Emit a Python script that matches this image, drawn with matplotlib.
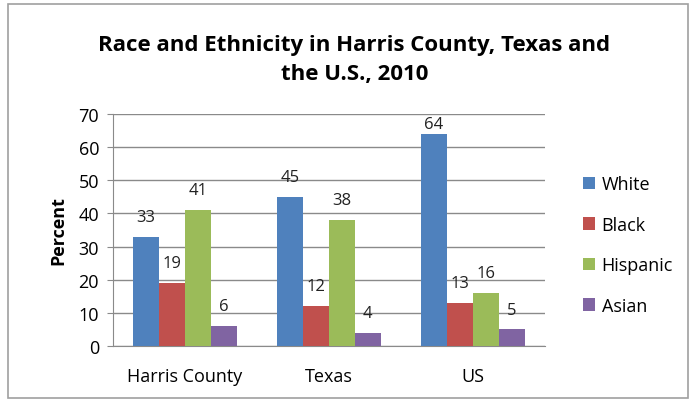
import numpy as np
import matplotlib
matplotlib.use("Agg")
import matplotlib.pyplot as plt
from matplotlib.patches import Rectangle

plt.rcParams['font.family'] = ['Open Sans', 'DejaVu Sans']

# Data
places = ["Harris County", "Texas", "US"]
groups = ["White", "Black", "Hispanic", "Asian"]
white = [33, 45, 64]
black = [19, 12, 13]
hispanic = [41, 38, 16]
asian = [6, 4, 5]
yticks = [0, 10, 20, 30, 40, 50, 60, 70]

colors = ["#4F81BD", "#C0504D", "#9BBB59", "#8064A2"]
series = [white, black, hispanic, asian]

fig = plt.figure(figsize=(6.91, 4.02), dpi=100)
fig.patch.set_facecolor("white")

# outer frame of the chart
fig.add_artist(Rectangle((8 / 691, 3 / 402), 680 / 691, 394 / 402,
                         transform=fig.transFigure, fill=False,
                         edgecolor="#a0a0a0", linewidth=1.2))

ax = fig.add_axes([0.1635, 0.1368, 0.625, 0.577])

x = np.arange(len(places))
w = 0.18
for i, (vals, name) in enumerate(zip(series, groups)):
    pos = x + (i - 1.5) * w
    ax.bar(pos, vals, width=w, color=colors[i], label=name, zorder=3)
    for p, v in zip(pos, vals):
        ax.text(p, min(v + 6, 67), str(v), ha='center', va='center',
                fontsize=12, color="#222222", zorder=4)

ax.set_ylim(0, 70)
ax.set_xlim(-0.5, 2.5)
ax.set_yticks(yticks)
ax.set_xticks(x)
ax.set_xticklabels(places, fontsize=13)
ax.tick_params(axis='y', labelsize=13, length=4, color="#8a8a8a", pad=6)
ax.tick_params(axis='x', length=0, pad=15)
ax.yaxis.grid(True, color="#8a8a8a", linewidth=1, zorder=0)
ax.set_axisbelow(True)
for s in ["top", "right"]:
    ax.spines[s].set_visible(False)
ax.spines["left"].set_color("#8a8a8a")
ax.spines["bottom"].set_color("#8a8a8a")

ax.set_ylabel("Percent", fontsize=13, fontweight='bold', labelpad=8)

fig.text(0.513, 0.851, "Race and Ethnicity in Harris County, Texas and\nthe U.S., 2010",
         ha='center', va='center', fontsize=16, fontweight='bold',
         linespacing=1.5)

ax.legend(loc='center left', bbox_to_anchor=(1.05, 0.435), frameon=False,
          fontsize=13, handlelength=0.7, handleheight=0.7,
          handletextpad=0.35, labelspacing=1.25)

fig.savefig("out.png", dpi=100)
